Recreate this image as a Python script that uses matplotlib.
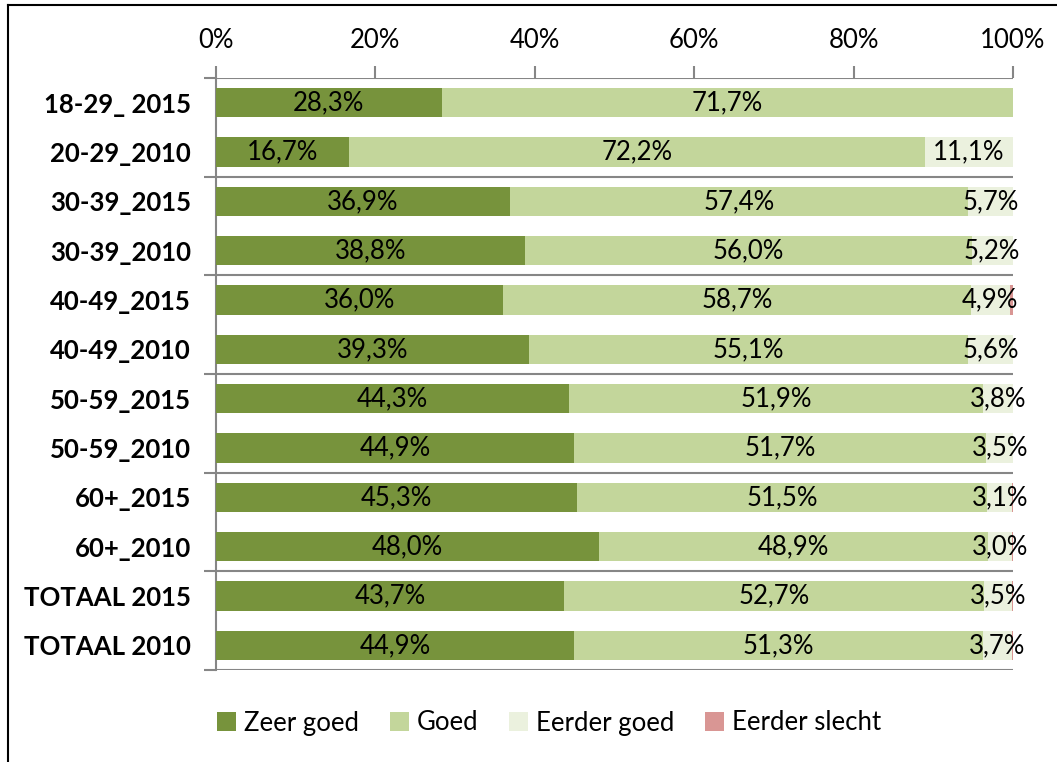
import matplotlib
matplotlib.use("Agg")
import matplotlib.pyplot as plt
import numpy as np

plt.rcParams['font.family'] = ['Lato', 'DejaVu Sans']

# data
categories = ["18-29_ 2015", "20-29_2010", "30-39_2015", "30-39_2010",
              "40-49_2015", "40-49_2010", "50-59_2015", "50-59_2010",
              "60+_2015", "60+_2010", "TOTAAL 2015", "TOTAAL 2010"]
zeer_goed = [28.3, 16.7, 36.9, 38.8, 36.0, 39.3, 44.3, 44.9, 45.3, 48.0, 43.7, 44.9]
goed = [71.7, 72.2, 57.4, 56.0, 58.7, 55.1, 51.9, 51.7, 51.5, 48.9, 52.7, 51.3]
eerder_goed = [0.0, 11.1, 5.7, 5.2, 4.9, 5.6, 3.8, 3.5, 3.1, 3.0, 3.5, 3.7]
eerder_slecht = [0.0, 0.0, 0.0, 0.0, 0.4, 0.0, 0.0, 0.0, 0.1, 0.1, 0.1, 0.1]

series = [("Zeer goed", zeer_goed, "#77933C"),
          ("Goed", goed, "#C3D69B"),
          ("Eerder goed", eerder_goed, "#EBF1DE"),
          ("Eerder slecht", eerder_slecht, "#D99694")]
labelled = ["Zeer goed", "Goed", "Eerder goed"]

FS = 18.5
W, H = 1057, 762
fig = plt.figure(figsize=(W / 100, H / 100), dpi=100)
ax = fig.add_axes([216 / W, 1 - 670 / H, (1013 - 216) / W, (670 - 78) / H])

y = np.arange(len(categories))
left = np.zeros(len(categories))
for name, vals, col in series:
    vals = np.array(vals)
    ax.barh(y, vals, left=left, height=0.6, color=col, label=name, zorder=3)
    if name in labelled:
        for yi, l, v in zip(y, left, vals):
            if v > 0:
                ax.text(l + v / 2, yi, f"{v:.1f}%".replace(".", ","),
                        ha="center", va="center", fontsize=FS, zorder=4)
    left += vals

ax.set_xlim(0, 100)
ax.set_ylim(len(categories) - 0.5, -0.5)

grey = "#868686"
# group separators
for b in np.arange(-0.5, len(categories), 2):
    ax.axhline(b, color=grey, lw=1.5, zorder=2)

ax.xaxis.tick_top()
ax.set_xticks(np.arange(0, 101, 20))
ax.set_xticklabels([f"{v}%" for v in range(0, 101, 20)])
ax.tick_params(axis="x", length=9, width=1.5, color=grey, labelsize=FS, pad=9)

ax.set_yticks(np.arange(-0.5, len(categories), 2), minor=False)
ax.set_yticklabels([])
ax.tick_params(axis="y", length=9, width=1.5, color=grey)
ax.set_yticks(y, minor=True)
ax.set_yticklabels(categories, minor=True, fontweight="bold")
ax.tick_params(axis="y", which="minor", length=0, labelsize=FS, pad=18)

for s in ["right", "bottom", "top"]:
    ax.spines[s].set_visible(False)
ax.spines["left"].set_color(grey)
ax.spines["left"].set_linewidth(1.5)

handles, labels = ax.get_legend_handles_labels()
fig.legend(handles, labels, loc="center", bbox_to_anchor=(549 / W, 1 - 723 / H),
           ncol=4, frameon=False, fontsize=FS, handlelength=0.75, handleheight=0.75,
           handletextpad=0.3, columnspacing=1.2)

# chart frame
fig.add_artist(plt.Line2D([8 / W, 1], [1 - 5 / H, 1 - 5 / H], color="black", lw=1.5))
fig.add_artist(plt.Line2D([8 / W, 8 / W], [0, 1 - 5 / H], color="black", lw=1.5))

fig.savefig("out.png", dpi=100)
